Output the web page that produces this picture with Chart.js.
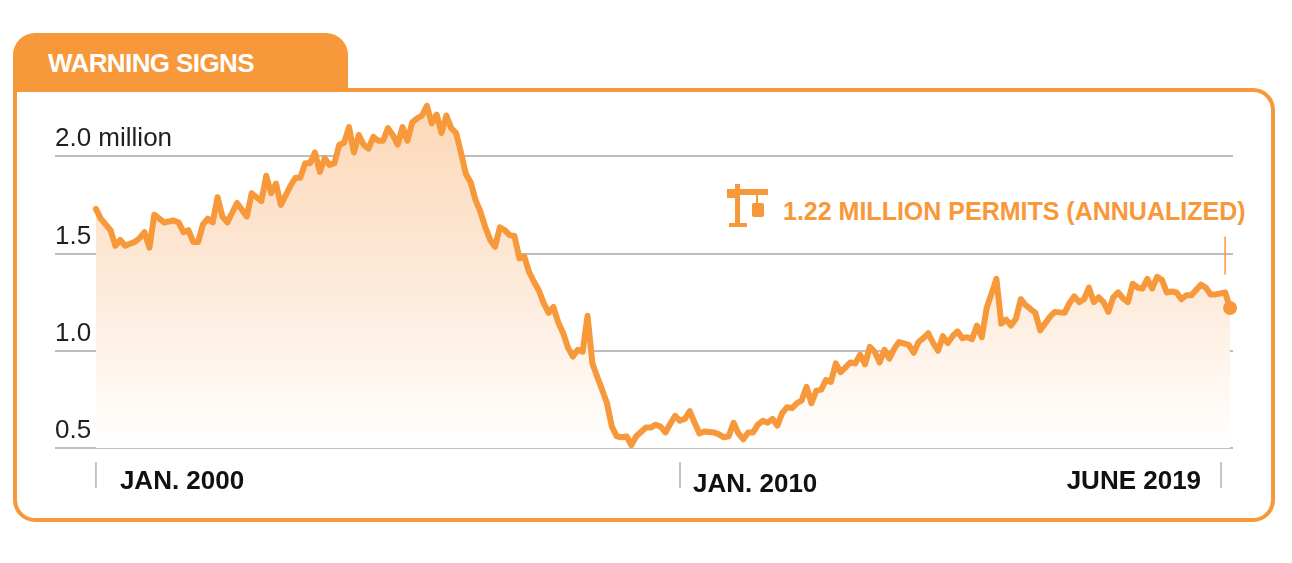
<!DOCTYPE html>
<html>
<head>
<meta charset="utf-8">
<title>Warning signs</title>
<script src="https://cdn.jsdelivr.net/npm/chart.js@4.4.1/dist/chart.umd.min.js"></script>
<style>
  html, body { margin: 0; padding: 0; background: #fff; }
  #wrap { position: relative; width: 1292px; height: 563px; overflow: hidden; font-family: "Liberation Sans", Arial, sans-serif; }
  .frame { position: absolute; left: 13px; top: 88px; width: 1254px; height: 426px; border: 4px solid #f7983a; border-radius: 0 22px 22px 22px; }
  .tab { position: absolute; left: 13px; top: 33px; width: 335px; height: 59px; background: #f7983a; border-radius: 22px 22px 0 0; }
  .tab span { position: absolute; left: 35px; top: 17px; color: #fff; font-weight: bold; font-size: 26px; line-height: 26px; letter-spacing: -0.6px; white-space: nowrap; }
  .note { position: absolute; left: 783px; top: 199px; color: #f7983a; font-weight: bold; font-size: 25px; line-height: 25px; letter-spacing: 0; white-space: nowrap; }
  .crane { position: absolute; left: 720px; top: 180px; }
  canvas { position: absolute; left: 0; top: 0; }
</style>
</head>
<body>
<div id="wrap">
  <div class="frame"></div>
  <div class="tab"><span>WARNING SIGNS</span></div>
  <svg class="crane" width="55" height="50" viewBox="0 0 55 50">
    <rect x="15" y="4" width="5" height="6" fill="#f7983a"/>
    <rect x="7" y="9" width="41" height="6" fill="#f7983a"/>
    <rect x="7" y="9" width="9" height="9" fill="#f7983a"/>
    <rect x="15" y="9" width="5" height="37" fill="#f7983a"/>
    <rect x="9" y="43" width="18" height="4" fill="#f7983a"/>
    <rect x="36" y="14" width="2" height="10" fill="#f7983a"/>
    <rect x="32" y="23" width="12" height="14" rx="2" fill="#f7983a"/>
  </svg>
  <div class="note">1.22 MILLION PERMITS (ANNUALIZED)</div>
  <canvas id="permitsChart" width="1292" height="563"></canvas>
</div>
<script>
  // months since Jan. 2000, and building permits (millions, annualized)
  const monthIndex = [
    0, 1, 3, 4, 5, 6, 8, 9, 10, 11, 12, 14, 16, 17, 18, 19, 20, 21, 22, 23,
    24, 25, 26, 27, 29, 31, 32, 34, 35, 36, 37, 38, 40, 41, 42, 43, 44, 45, 46, 47,
    48, 49, 50, 51, 52, 53, 54, 55, 56, 57, 58, 59, 60, 61, 62, 63, 64, 65, 66, 67,
    68, 69, 70, 71, 72, 73, 74, 75, 76, 77, 78, 79, 80, 81, 82, 83, 84, 85, 86, 87,
    88, 89, 90, 91, 92, 93, 94, 95, 96, 97, 98, 99, 100, 101, 102, 103, 104, 105, 106, 107,
    108, 109, 110, 111, 113, 114, 115, 116, 117, 118, 119, 120, 121, 122, 123, 124, 125, 127, 128, 129,
    130, 131, 132, 133, 134, 135, 136, 137, 138, 139, 140, 141, 142, 143, 144, 145, 146, 147, 148, 149,
    150, 151, 152, 153, 154, 155, 156, 157, 158, 159, 160, 161, 162, 163, 164, 165, 167, 168, 169, 170,
    171, 172, 173, 174, 175, 176, 177, 178, 179, 180, 181, 182, 183, 185, 186, 187, 188, 189, 190, 191,
    192, 193, 194, 196, 197, 199, 200, 201, 202, 203, 204, 205, 206, 207, 208, 209, 210, 211, 212, 213,
    214, 215, 216, 217, 218, 219, 220, 221, 222, 223, 224, 225, 227, 228, 229, 230, 232, 233
  ];
  const permitsMillions = [
    1.73, 1.68, 1.62, 1.54, 1.57, 1.54, 1.56, 1.58, 1.61, 1.53, 1.70, 1.66, 1.67, 1.66, 1.61, 1.62, 1.56, 1.56, 1.65, 1.68,
    1.66, 1.79, 1.69, 1.66, 1.76, 1.69, 1.81, 1.77, 1.90, 1.81, 1.86, 1.75, 1.85, 1.89, 1.89, 1.965, 1.965, 2.02, 1.92, 1.99,
    1.955, 1.965, 2.06, 2.07, 2.15, 2.02, 2.11, 2.06, 2.04, 2.10, 2.08, 2.08, 2.145, 2.11, 2.06, 2.15, 2.08, 2.175, 2.195, 2.21,
    2.26, 2.17, 2.215, 2.12, 2.21, 2.145, 2.12, 2.02, 1.91, 1.865, 1.775, 1.715, 1.635, 1.57, 1.535, 1.635, 1.62, 1.595, 1.59, 1.475,
    1.485, 1.405, 1.355, 1.31, 1.245, 1.195, 1.225, 1.145, 1.09, 1.015, 0.97, 1.005, 0.995, 1.18, 0.935, 0.865, 0.80, 0.73, 0.61, 0.56,
    0.555, 0.56, 0.515, 0.56, 0.605, 0.605, 0.62, 0.61, 0.58, 0.625, 0.665, 0.64, 0.65, 0.69, 0.63, 0.575, 0.585, 0.58, 0.57, 0.555,
    0.56, 0.63, 0.575, 0.545, 0.58, 0.58, 0.62, 0.64, 0.63, 0.65, 0.615, 0.68, 0.71, 0.705, 0.73, 0.745, 0.815, 0.73, 0.795, 0.80,
    0.85, 0.84, 0.935, 0.89, 0.915, 0.94, 0.935, 0.98, 0.93, 1.02, 0.995, 0.94, 1.005, 0.96, 1.01, 1.045, 1.03, 0.99, 1.045, 1.065,
    1.09, 1.04, 1.00, 1.075, 1.04, 1.075, 1.10, 1.065, 1.07, 1.06, 1.13, 1.07, 1.22, 1.37, 1.14, 1.16, 1.13, 1.165, 1.265, 1.235,
    1.215, 1.195, 1.105, 1.175, 1.20, 1.195, 1.245, 1.28, 1.25, 1.265, 1.325, 1.25, 1.275, 1.25, 1.20, 1.275, 1.30, 1.27, 1.25, 1.345,
    1.325, 1.32, 1.37, 1.32, 1.38, 1.365, 1.30, 1.305, 1.30, 1.265, 1.285, 1.285, 1.34, 1.325, 1.29, 1.29, 1.30, 1.22
  ];

  const yTickValues = [0.5, 1.0, 1.5, 2.0];
  const yTickLabels = ['0.5', '1.0', '1.5', '2.0 million'];
  const xTickMonths = [0, 120, 233];
  const xTickLabels = ['JAN. 2000', 'JAN. 2010', 'JUNE 2019'];

  const ORANGE = '#f7983a';

  const axisText = {
    id: 'axisText',
    afterDraw(chart) {
      const ctx = chart.ctx;
      const area = chart.chartArea;
      const xs = chart.scales.x;
      const ys = chart.scales.y;

      ctx.save();
      // y labels sit above their grid line
      ctx.fillStyle = '#1f1f1f';
      ctx.font = '26px "Liberation Sans", Arial, sans-serif';
      ctx.textAlign = 'left';
      ctx.textBaseline = 'alphabetic';
      yTickValues.forEach((v, i) => {
        ctx.fillText(yTickLabels[i], area.left, ys.getPixelForValue(v) - 10);
      });

      // x ticks: short grey mark, label beside it
      ctx.font = 'bold 26px "Liberation Sans", Arial, sans-serif';
      ctx.fillStyle = '#111';
      xTickMonths.forEach((m, i) => {
        const last = i === xTickMonths.length - 1;
        const px = xs.getPixelForValue(m) - (last ? 9 : 0);
        ctx.strokeStyle = '#c4c4c4';
        ctx.lineWidth = 2;
        ctx.beginPath();
        ctx.moveTo(px, area.bottom + 14);
        ctx.lineTo(px, area.bottom + 40);
        ctx.stroke();
        if (last) {
          ctx.textAlign = 'right';
          ctx.fillText(xTickLabels[i], px - 20, area.bottom + 41);
        } else {
          ctx.textAlign = 'left';
          ctx.fillText(xTickLabels[i], px + (i === 0 ? 24 : 13), area.bottom + 41 + (i === 0 ? 0 : 3));
        }
      });

      // leader line from the note down to the latest value
      const lx = xs.getPixelForValue(monthIndex[monthIndex.length - 1]) - 5;
      const y15 = ys.getPixelForValue(1.5);
      ctx.strokeStyle = ORANGE;
      ctx.lineWidth = 1.5;
      ctx.beginPath();
      ctx.moveTo(lx, y15 - 17);
      ctx.lineTo(lx, y15 + 21);
      ctx.stroke();
      ctx.restore();
    }
  };

  const points = monthIndex.map((m, i) => ({ x: m, y: permitsMillions[i] }));
  const lastIdx = points.length - 1;

  new Chart(document.getElementById('permitsChart'), {
    type: 'line',
    data: {
      datasets: [{
        data: points,
        borderColor: ORANGE,
        borderWidth: 6,
        borderJoinStyle: 'round',
        borderCapStyle: 'round',
        tension: 0,
        clip: false,
        fill: 'start',
        backgroundColor: (c) => {
          const area = c.chart.chartArea;
          if (!area) return 'rgba(0,0,0,0)';
          const g = c.chart.ctx.createLinearGradient(0, area.top, 0, area.bottom);
          g.addColorStop(0, '#fcd7b6');
          g.addColorStop(0.55, '#fdebdb');
          g.addColorStop(1, '#ffffff');
          return g;
        },
        pointRadius: (c) => (c.dataIndex === lastIdx ? 7 : 0),
        pointBackgroundColor: ORANGE,
        pointBorderWidth: 0,
        pointHoverRadius: 0
      }]
    },
    options: {
      responsive: false,
      animation: false,
      layout: { padding: { left: 55, right: 59, top: 98, bottom: 115 } },
      plugins: {
        legend: { display: false },
        tooltip: { enabled: false }
      },
      scales: {
        x: { type: 'linear', min: -8.4, max: 233.6, display: false },
        y: {
          min: 0.5,
          max: 2.3,
          border: { display: false },
          grid: { color: '#bdbdbd', lineWidth: 2, drawTicks: false },
          ticks: { display: false },
          afterBuildTicks: (scale) => {
            scale.ticks = yTickValues.map(v => ({ value: v }));
          }
        }
      }
    },
    plugins: [axisText]
  });
</script>
</body>
</html>
